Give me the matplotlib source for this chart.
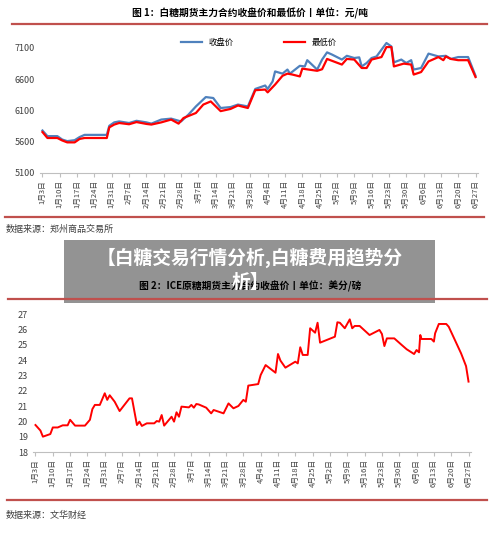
import matplotlib
matplotlib.use("Agg")
import matplotlib.pyplot as plt
from matplotlib.patches import Rectangle
from matplotlib.lines import Line2D

plt.rcParams['font.family'] = ['Noto Sans CJK SC', 'DejaVu Sans']

tick_days = list(range(0, 176, 7))
tick_labels = ["1月3日","1月10日","1月17日","1月24日","1月31日","2月7日","2月14日","2月21日","2月28日",
               "3月7日","3月14日","3月21日","3月28日","4月4日","4月11日","4月18日","4月25日","5月2日",
               "5月9日","5月16日","5月23日","5月30日","6月6日","6月13日","6月20日","6月27日"]

close_days = [0,2,6,8,10,13,15,17,26,27,29,31,35,38,42,44,48,52,56,59,62,66,69,72,76,79,83,86,90,91,93,94,97,99,100,
              104,106,107,111,113,115,117,121,123,126,128,129,131,133,135,139,141,142,145,147,149,150,153,156,160,163,165,168,172,175]
close_vals = [5780,5690,5690,5635,5610,5625,5675,5710,5710,5855,5910,5925,5900,5935,5910,5890,5955,5970,5925,6035,6165,6315,6300,6140,6155,6195,6165,6445,6500,6445,6565,6725,6690,6755,6690,
              6815,6805,6905,6755,6915,7030,6995,6915,6975,6940,6950,6805,6860,6940,6965,7180,7125,6870,6915,6860,6905,6755,6780,7010,6965,6975,6925,6955,6955,6655]

low_days = [0,2,6,8,10,13,15,17,26,27,29,31,35,38,42,44,48,52,55,57,62,65,68,72,76,79,83,86,90,91,94,97,99,101,104,105,
            111,113,115,121,123,126,129,131,133,137,139,141,142,146,149,150,153,156,160,162,163,165,168,172,174,175]
low_vals = [5755,5660,5660,5620,5590,5590,5645,5660,5660,5830,5875,5900,5880,5915,5885,5875,5910,5955,5890,5980,6060,6195,6245,6090,6125,6180,6140,6425,6435,6390,6515,6655,6690,6675,6645,6770,
            6735,6760,6925,6835,6925,6915,6780,6780,6915,6955,7115,7115,6805,6850,6835,6675,6715,6885,6955,6905,6965,6925,6905,6905,6725,6635]

ice_days = [0,2,3,6,7,9,11,13,14,16,20,22,23,24,26,28,29,30,32,34,38,39,41,42,43,45,48,49,50,51,52,55,56,57,58,59,62,63,64,65,66,69,71,72,76,78,80,82,84,85,86,90,91,93,97,98,99,101,105,106,107,108,110,111,113,114,115,121,122,123,125,127,128,129,131,135,139,140,141,142,145,148,150,153,154,155,155.5,156,160,161,161.5,163,166,167,172,174,175]
ice_vals = [19.76,19.4,19.0,19.17,19.6,19.6,19.74,19.74,20.1,19.72,19.72,20.1,20.8,21.07,21.07,21.83,21.4,21.7,21.28,20.67,21.5,21.5,19.76,19.98,19.7,19.87,19.87,20.02,19.98,20.41,19.72,20.3,19.98,20.59,20.3,20.96,20.91,21.07,20.89,21.13,21.1,20.89,20.52,20.74,20.52,21.17,20.85,21.0,21.4,21.28,22.33,22.43,23.02,23.67,23.17,24.39,23.96,23.5,23.89,23.78,24.83,24.33,24.33,26.07,25.78,26.43,25.13,25.52,26.46,26.43,26.07,26.65,26.07,26.22,26.22,25.63,25.96,25.7,24.91,25.41,25.41,24.98,24.7,24.39,24.65,24.5,25.63,25.37,25.37,25.2,25.74,26.35,26.35,26.17,24.43,23.6,22.59]

W, H = 500, 543
fig = plt.figure(figsize=(5, 5.43), dpi=100)
line_c = '#C0504D'

def px(x, y):
    return x / W, 1 - y / H

def hline(y, x0=12, x1=487):
    fig.add_artist(Line2D([x0/W, x1/W], [1-y/H, 1-y/H], color=line_c, lw=1.6))

def style(ax):
    for s in ['top', 'right', 'left']:
        ax.spines[s].set_visible(False)
    ax.spines['bottom'].set_color('#BFBFBF')
    ax.set_xlim(-1, 176)
    ax.set_xticks(tick_days)
    ax.set_xticklabels(tick_labels, rotation=90, fontsize=5.5, color='#404040')
    ax.tick_params(axis='x', length=3, color='#BFBFBF', pad=2)
    ax.tick_params(axis='y', length=0, labelsize=6.5, labelcolor='#404040')

# top chart
fig.text(*px(250, 13), "图 1：白糖期货主力合约收盘价和最低价丨单位：元/吨", ha='center', va='center', fontsize=7, fontweight='bold')
hline(24)
ax1 = fig.add_axes([40/W, 1-173/H, 438/W, 137/H])
ax1.plot(close_days, close_vals, color='#4F81BD', lw=1.6, label='收盘价')
ax1.plot(low_days, low_vals, color='#FF0000', lw=1.6, label='最低价')
ax1.set_ylim(5100, 7292)
ax1.set_yticks([5100, 5600, 6100, 6600, 7100])
style(ax1)
ax1.legend(loc='upper center', ncol=2, frameon=False, fontsize=6, bbox_to_anchor=(0.5, 1.04), columnspacing=6, handlelength=2.5)
hline(217, 5, 484)
fig.text(*px(6, 229), "数据来源：郑州商品交易所", ha='left', va='center', fontsize=6.5, color='#404040')

# bottom chart
fig.text(*px(250, 286), "图 2：ICE原糖期货主力合约收盘价丨单位：美分/磅", ha='center', va='center', fontsize=7, fontweight='bold')
hline(299, 8, 487)
ax2 = fig.add_axes([33/W, 1-452/H, 438/W, 138/H])
ax2.plot(ice_days, ice_vals, color='#FF0000', lw=1.4)
ax2.set_ylim(18, 27)
ax2.set_yticks(range(18, 28))
style(ax2)
hline(500, 7, 487)
fig.text(*px(6, 515), "数据来源：文华财经", ha='left', va='center', fontsize=6.5, color='#404040')

# overlay
fig.add_artist(Rectangle((64/W, 1-303/H), 371/W, 63/H, transform=fig.transFigure, color='#808080', alpha=0.85, lw=0))
fig.text(*px(250, 258), "【白糖交易行情分析,白糖费用趋势分", ha='center', va='center', fontsize=13.5, fontweight='bold', color='white')
fig.text(*px(250, 282), "析】", ha='center', va='center', fontsize=13.5, fontweight='bold', color='white')

fig.savefig('out.png', dpi=100)
